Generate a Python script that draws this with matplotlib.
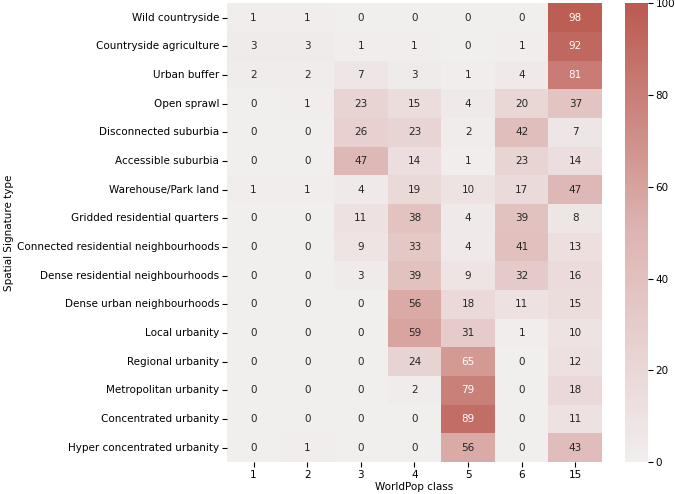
import matplotlib
matplotlib.use("Agg")
import matplotlib.pyplot as plt
import numpy as np
import seaborn as sns
from matplotlib.colors import LinearSegmentedColormap

rows = ["Wild countryside", "Countryside agriculture", "Urban buffer", "Open sprawl",
        "Disconnected suburbia", "Accessible suburbia", "Warehouse/Park land",
        "Gridded residential quarters", "Connected residential neighbourhoods",
        "Dense residential neighbourhoods", "Dense urban neighbourhoods",
        "Local urbanity", "Regional urbanity", "Metropolitan urbanity",
        "Concentrated urbanity", "Hyper concentrated urbanity"]
cols = ["1", "2", "3", "4", "5", "6", "15"]
values = np.array([
    [1, 1, 0, 0, 0, 0, 98],
    [3, 3, 1, 1, 0, 1, 92],
    [2, 2, 7, 3, 1, 4, 81],
    [0, 1, 23, 15, 4, 20, 37],
    [0, 0, 26, 23, 2, 42, 7],
    [0, 0, 47, 14, 1, 23, 14],
    [1, 1, 4, 19, 10, 17, 47],
    [0, 0, 11, 38, 4, 39, 8],
    [0, 0, 9, 33, 4, 41, 13],
    [0, 0, 3, 39, 9, 32, 16],
    [0, 0, 0, 56, 18, 11, 15],
    [0, 0, 0, 59, 31, 1, 10],
    [0, 0, 0, 24, 65, 0, 12],
    [0, 0, 0, 2, 79, 0, 18],
    [0, 0, 0, 0, 89, 0, 11],
    [0, 1, 0, 0, 56, 0, 43],
])

cmap = LinearSegmentedColormap.from_list("reds", ["#f1eeee", "#ddb5b2", "#bb5a50"])

fs = 7.5
fig = plt.figure(figsize=(6.75, 4.94), dpi=100)
ax = fig.add_axes([0.336, 0.065, 0.556, 0.928])
cax = fig.add_axes([0.926, 0.065, 0.034, 0.928])
sns.heatmap(values, ax=ax, cbar_ax=cax, cmap=cmap, vmin=0, vmax=100,
            annot=True, fmt="d", annot_kws={"fontsize": fs},
            xticklabels=cols, yticklabels=rows)
ax.set_xlabel("WorldPop class", fontsize=fs, labelpad=2)
ax.set_ylabel("Spatial Signature type", fontsize=fs, labelpad=2)
ax.tick_params(labelsize=fs, pad=2)
cax.tick_params(labelsize=fs, pad=2)
plt.setp(ax.get_yticklabels(), rotation=0)
fig.savefig("out.png", dpi=100)
